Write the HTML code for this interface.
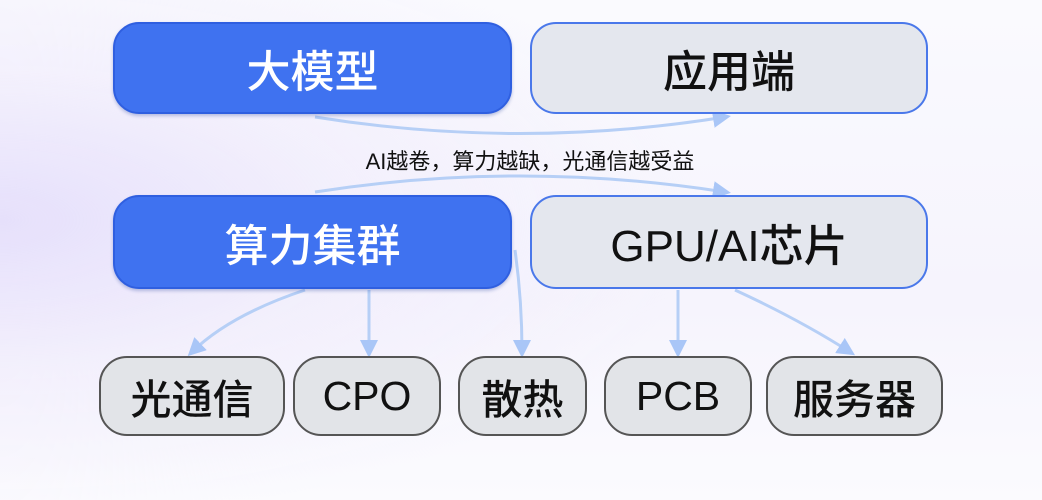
<!DOCTYPE html>
<html><head><meta charset="utf-8"><style>
body{margin:0;width:1042px;height:500px;overflow:hidden;font-family:"Liberation Sans","Noto Sans CJK SC",sans-serif;
background:radial-gradient(ellipse 700px 300px at 0px 220px,#e6e0fb 0%,rgba(240,236,252,0.6) 50%,rgba(255,255,255,0) 100%),linear-gradient(180deg,#fafafe 0%,#f6f4fd 60%,#fbfbfe 100%);position:relative}
.b{position:absolute;box-sizing:border-box;display:flex;align-items:center;justify-content:center;border-radius:26px;font-size:44px;font-weight:500}
.blue{background:#3f72f0;border:2px solid #2f5fe0;color:#fff;box-shadow:0 2px 3px rgba(40,70,160,.3)}
.gray{background:#e4e7ee;border:2px solid #4a78ea;color:#111}
.s{position:absolute;box-sizing:border-box;display:flex;align-items:center;justify-content:center;border-radius:28px;background:#e2e4e8;border:2px solid #555;color:#111;font-size:41px;font-weight:500;top:356px;height:80px}
svg{position:absolute;left:0;top:0}
</style></head><body>
<svg width="1042" height="500">
<defs><marker id="a" markerWidth="6" markerHeight="6" refX="4" refY="3" orient="auto" markerUnits="strokeWidth"><path d="M0,0 L6,3 L0,6 z" fill="#a9c6f7"/></marker></defs>
<g fill="none" stroke="#b6cff6" stroke-width="3">
<path d="M315,117 Q520,150 725,117" marker-end="url(#a)"/>
<path d="M315,192 Q520,160 725,192" marker-end="url(#a)"/>
<path d="M305,290 Q230,315 192,352" marker-end="url(#a)"/>
<path d="M369,290 L369,352" marker-end="url(#a)"/>
<path d="M515,250 Q522,300 522,352" marker-end="url(#a)"/>
<path d="M678,290 L678,352" marker-end="url(#a)"/>
<path d="M735,290 Q800,320 850,352" marker-end="url(#a)"/>
</g></svg>
<div class="b blue" style="left:113px;top:22px;width:399px;height:92px">大模型</div>
<div class="b gray" style="left:530px;top:22px;width:398px;height:92px">应用端</div>
<div style="position:absolute;left:0;width:1060px;top:144px;text-align:center;font-size:22px;color:#111">AI越卷，算力越缺，光通信越受益</div>
<div class="b blue" style="left:113px;top:195px;width:399px;height:94px">算力集群</div>
<div class="b gray" style="left:530px;top:195px;width:398px;height:94px">GPU/AI芯片</div>
<div class="s" style="left:99px;width:186px">光通信</div>
<div class="s" style="left:293px;width:148px">CPO</div>
<div class="s" style="left:458px;width:129px">散热</div>
<div class="s" style="left:604px;width:148px">PCB</div>
<div class="s" style="left:766px;width:177px">服务器</div>
</body></html>
